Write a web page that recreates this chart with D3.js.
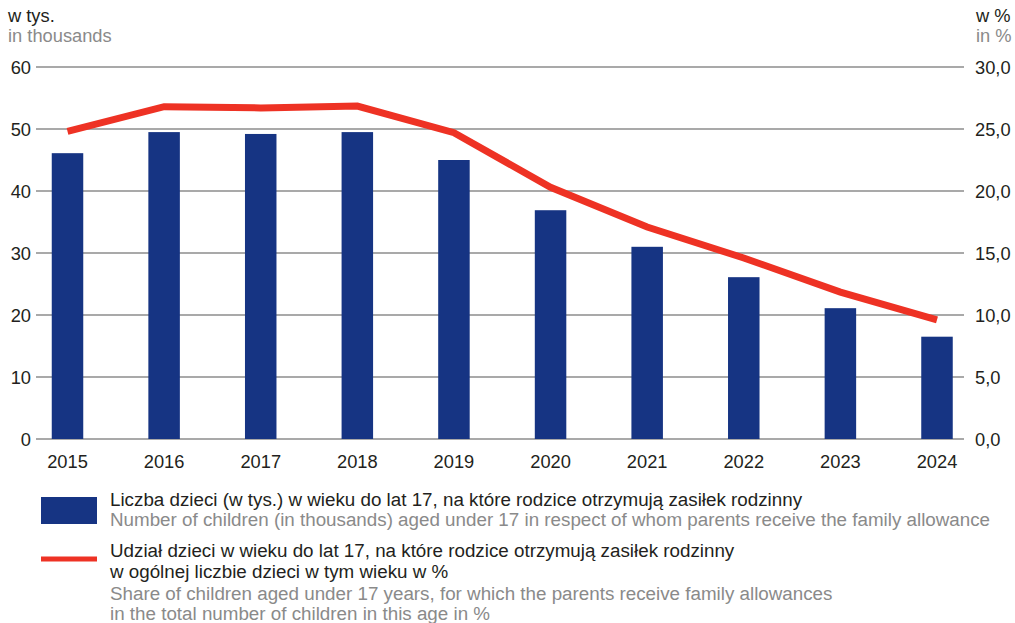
<!DOCTYPE html>
<html><head><meta charset="utf-8">
<script src="https://cdn.jsdelivr.net/npm/d3@7"></script>
<style>body{margin:0;background:#fff}svg{display:block;font-family:"Liberation Sans",Arial,sans-serif}</style>
</head><body><svg id="c" width="1015" height="623"></svg>
<script>
const years = ["2015","2016","2017","2018","2019","2020","2021","2022","2023","2024"];
const childrenThousands = [46.1,49.5,49.2,49.5,45.0,36.9,31.0,26.1,21.1,16.5];
const sharePercent = [24.8,26.8,26.7,26.85,24.7,20.3,17.1,14.6,11.85,9.6];
const leftTicks = [0,10,20,30,40,50,60];
const rightTicks = [0,5,10,15,20,25,30];
const leftUnit = ["w tys.","in thousands"];
const rightUnit = ["w %","in %"];
const legendBar = ["Liczba dzieci (w tys.) w wieku do lat 17, na które rodzice otrzymują zasiłek rodzinny","Number of children (in thousands) aged under 17 in respect of whom parents receive the family allowance"];
const legendLine = ["Udział dzieci w wieku do lat 17, na które rodzice otrzymują zasiłek rodzinny","w ogólnej liczbie dzieci w tym wieku w %","Share of children aged under 17 years, for which the parents receive family allowances","in the total number of children in this age in %"];

const svg = d3.select("#c");
const BLUE="#163483", RED="#ee3224", GRID="#8c8c8c", DARK="#231f20", GRAY="#8a8a8a";
const FS=18.3;
const x = d3.scalePoint().domain(years).range([67.5,937]);
const barW = 31.5;
const yL = d3.scaleLinear().domain([0,60]).range([439,67]);
const yR = d3.scaleLinear().domain([0,30]).range([439,67]);

// gridlines
svg.append("g").selectAll("line").data(leftTicks).join("line")
  .attr("x1",36).attr("x2",964).attr("y1",d=>yL(d)).attr("y2",d=>yL(d))
  .attr("stroke",GRID).attr("stroke-width",1.6);

// left axis labels
const gl = svg.append("g").attr("transform","translate(31,0)")
  .call(d3.axisLeft(yL).tickValues(leftTicks).tickSize(0).tickPadding(0).tickFormat(d3.format("d")));
gl.select(".domain").remove();
gl.selectAll("text").attr("font-size",FS).attr("fill",DARK).attr("font-family","'Liberation Sans',Arial,sans-serif").attr("dy","0.36em");

const gr = svg.append("g").attr("transform","translate(975,0)")
  .call(d3.axisRight(yR).tickValues(rightTicks).tickSize(0).tickPadding(0).tickFormat(d=>d3.format(".1f")(d).replace(".",",")));
gr.select(".domain").remove();
gr.selectAll("text").attr("font-size",FS).attr("fill",DARK).attr("font-family","'Liberation Sans',Arial,sans-serif").attr("dy","0.36em");

// bars
svg.append("g").selectAll("rect").data(years).join("rect")
  .attr("x",d=>x(d)-barW/2).attr("width",barW)
  .attr("y",(d,i)=>yL(childrenThousands[i])).attr("height",(d,i)=>yL(0)-yL(childrenThousands[i]))
  .attr("fill",BLUE);

// line
svg.append("path").datum(years)
  .attr("d",d3.line().x(d=>x(d)).y((d,i)=>yR(sharePercent[i])))
  .attr("fill","none").attr("stroke",RED).attr("stroke-width",7);

// x labels
svg.append("g").selectAll("text").data(years).join("text")
  .attr("x",d=>x(d)).attr("y",468).attr("text-anchor","middle")
  .attr("font-size",FS).attr("fill",DARK).text(d=>d);

// unit labels
svg.append("text").attr("x",8).attr("y",22).attr("font-size",FS).attr("fill",DARK).text(leftUnit[0]);
svg.append("text").attr("x",8).attr("y",42).attr("font-size",FS).attr("fill",GRAY).text(leftUnit[1]);
svg.append("text").attr("x",976).attr("y",22).attr("font-size",FS).attr("fill",DARK).text(rightUnit[0]);
svg.append("text").attr("x",976).attr("y",42).attr("font-size",FS).attr("fill",GRAY).text(rightUnit[1]);

// legend
svg.append("rect").attr("x",41).attr("y",497).attr("width",56).attr("height",27).attr("fill",BLUE);
svg.append("line").attr("x1",41).attr("x2",97).attr("y1",559).attr("y2",559).attr("stroke",RED).attr("stroke-width",5);
const lg = svg.append("g").attr("font-size",18.8);
lg.append("text").attr("x",110).attr("y",506).attr("fill",DARK).text(legendBar[0]);
lg.append("text").attr("x",110).attr("y",526).attr("fill",GRAY).text(legendBar[1]);
const lineColors=[DARK,DARK,GRAY,GRAY], lineY=[557,578,600,620];
legendLine.forEach((t,i)=>lg.append("text").attr("x",110).attr("y",lineY[i]).attr("fill",lineColors[i]).text(t));
</script></body></html>
